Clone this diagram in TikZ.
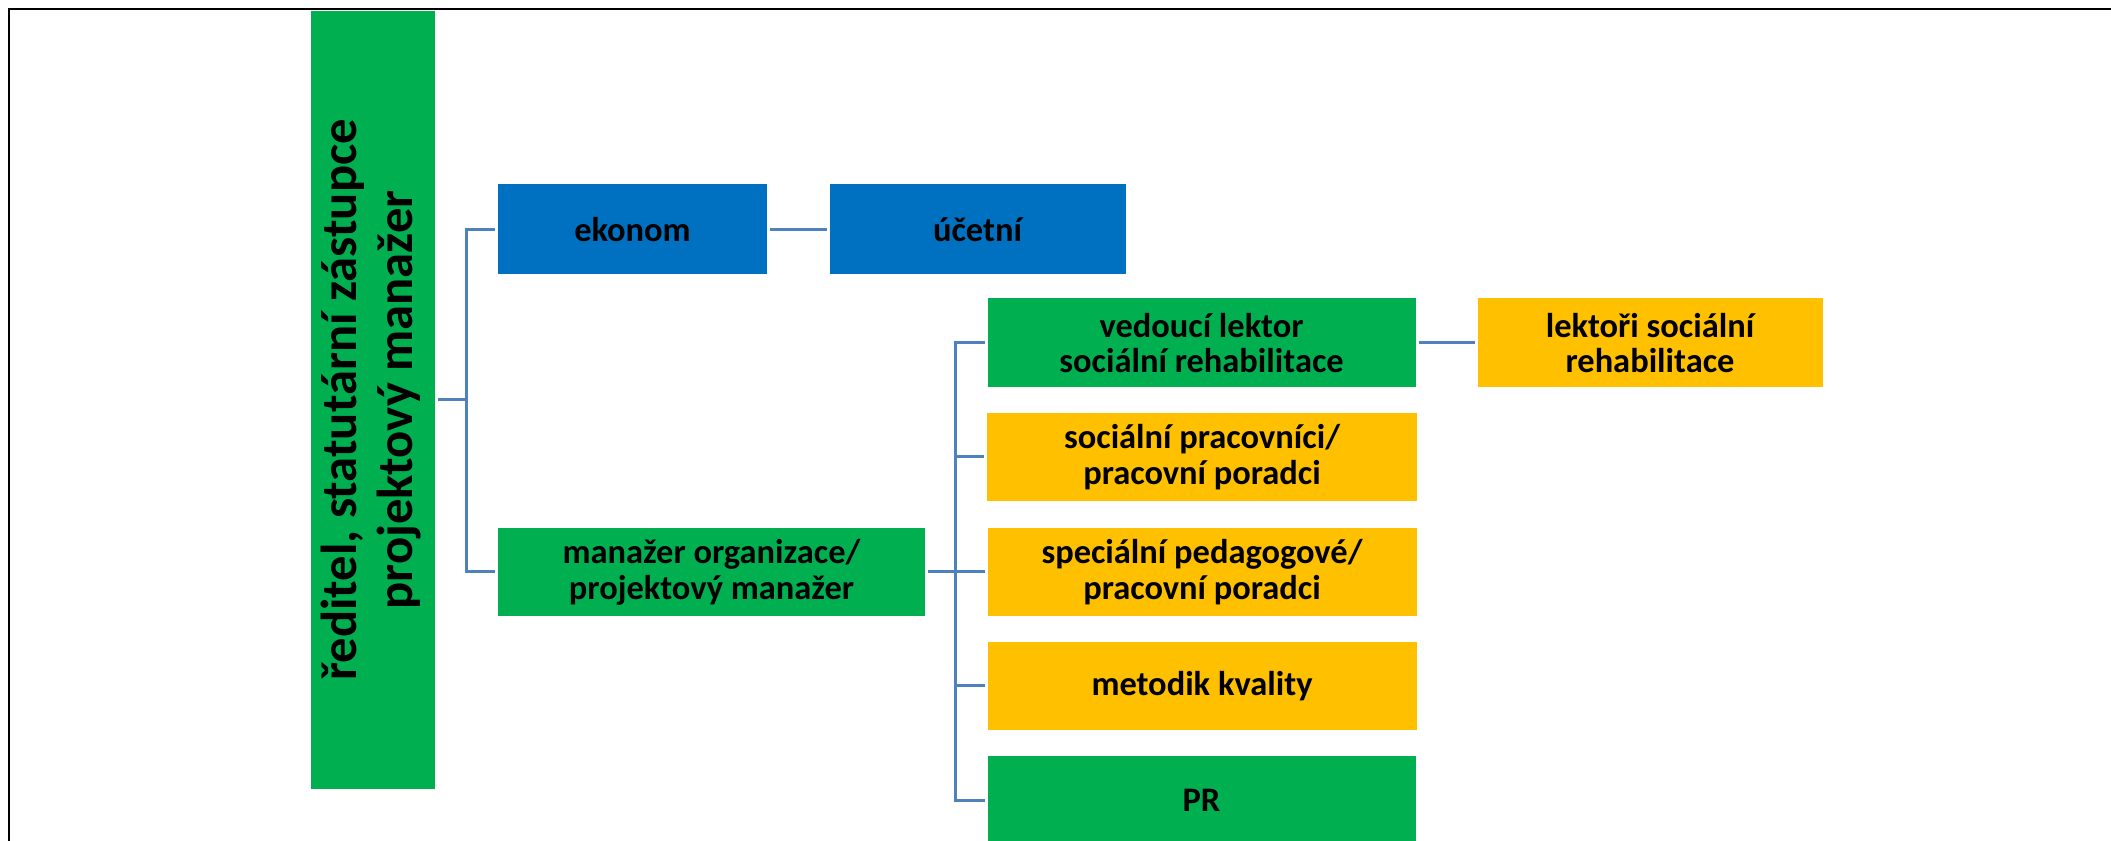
\documentclass[tikz,border=0pt]{standalone}
\usepackage{fontspec}
\setmainfont{Carlito}
\usepackage{graphicx}
\definecolor{orgGreen}{HTML}{00B050}
\definecolor{orgBlue}{HTML}{0070C0}
\definecolor{orgGold}{HTML}{FFC000}
\definecolor{orgLine}{HTML}{4F81BD}
\tikzset{
	box/.style={inner sep=0pt, outer sep=0.03cm, align=center,
		font=\fontsize{9.8}{10.2}\selectfont\bfseries},
	conn/.style={draw=orgLine, line width=0.03cm},
}

\begin{document}
\begin{tikzpicture}
	\useasboundingbox (0,0) rectangle (21.11,-8.41);
	\draw [line width=0.02cm] (0.09,-8.41) -- (0.09,-0.09) -- (21.11,-0.09);
	\node [box, fill=orgGreen, minimum width=1.24cm, minimum height=7.78cm,
		font=\fontsize{14.4}{15.9}\selectfont\bfseries] (root) at (3.73,-4.00)
		{\rotatebox{90}{\begin{tabular}{@{}c@{}}ředitel, statutární zástupce\\projektový manažer\end{tabular}}};
	\node [box, fill=orgBlue, minimum width=2.69cm, minimum height=0.90cm] (ekonom) at (6.325,-2.295) {ekonom};
	\node [box, fill=orgBlue, minimum width=2.96cm, minimum height=0.90cm] (ucetni) at (9.775,-2.295) {účetní};
	\node [box, fill=orgGreen, minimum width=4.27cm, minimum height=0.88cm] (manazer) at (7.115,-5.72) {manažer organizace/\\projektový manažer};
	\node [box, fill=orgGreen, minimum width=4.28cm, minimum height=0.89cm] (vedouci) at (12.015,-3.43) {vedoucí lektor\\sociální rehabilitace};
	\node [box, fill=orgGold, minimum width=3.45cm, minimum height=0.89cm] (lektori) at (16.50,-3.43) {lektoři sociální\\rehabilitace};
	\node [box, fill=orgGold, minimum width=4.30cm, minimum height=0.88cm] (socprac) at (12.02,-4.57) {sociální pracovníci/\\pracovní poradci};
	\node [box, fill=orgGold, minimum width=4.29cm, minimum height=0.88cm] (specped) at (12.02,-5.72) {speciální pedagogové/\\pracovní poradci};
	\node [box, fill=orgGold, minimum width=4.29cm, minimum height=0.88cm] (metodik) at (12.02,-6.86) {metodik kvality};
	\node [box, fill=orgGreen, minimum width=4.28cm, minimum height=0.88cm] (pr) at (12.015,-8.00) {PR};
	\coordinate (busA) at (4.66,-4.00);
	\coordinate (busB) at (9.555,-5.72);
	\draw [conn] (root) -- (busA);
	\draw [conn] (ekonom.west) -| (busA) |- (manazer.west);
	\draw [conn] (ekonom) -- (ucetni);
	\draw [conn] (manazer) -- (specped);
	\draw [conn] (vedouci.west) -| (busB) |- (pr.west);
	\draw [conn] (busB |- socprac) -- (socprac);
	\draw [conn] (busB |- metodik) -- (metodik);
	\draw [conn] (vedouci) -- (lektori);
\end{tikzpicture}
\end{document}
